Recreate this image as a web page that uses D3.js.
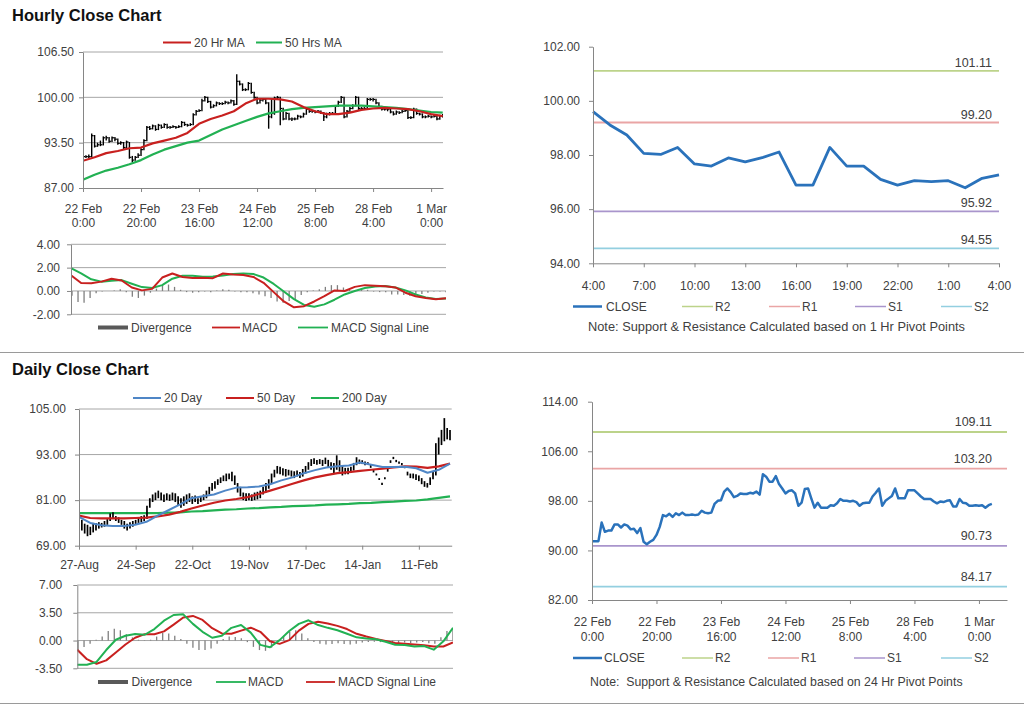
<!DOCTYPE html>
<html><head><meta charset="utf-8">
<script src="https://cdn.jsdelivr.net/npm/d3@7"></script>
<style>
body{margin:0;background:#fff;}
svg{display:block;}
</style></head><body>
<script>
// ---------------- DATA ----------------
const hourlyTickIdx = [0,20,40,60,80,100,120];
const hourlyTickLabels = [["22 Feb","0:00"],["22 Feb","20:00"],["23 Feb","16:00"],["24 Feb","12:00"],["25 Feb","8:00"],["28 Feb","4:00"],["1 Mar","0:00"]];
const hourlyClose = [91.5,91.5,91.5,94.5,93.0,93.2,93.2,94.2,94.2,93.7,
 94.2,94.0,93.4,93.5,92.8,93.6,91.4,91.0,91.4,91.7,
 92.5,93.8,95.7,95.5,95.9,95.4,96.0,95.7,96.1,95.7,
 95.7,95.8,95.7,95.8,96.4,96.1,96.0,96.1,97.5,98.0,
 98.1,99.5,100.0,99.4,98.6,98.8,99.2,99.1,99.1,99.3,
 99.2,99.5,99.0,102.3,101.9,101.1,101.1,102.0,100.7,100.0,
 99.2,99.6,99.7,99.2,97.2,97.7,99.9,100.0,98.4,96.9,
 97.7,96.9,96.9,96.9,97.3,97.2,97.6,98.3,98.0,98.0,
 97.9,98.0,97.8,97.2,97.6,97.7,97.7,98.7,99.3,100.0,
 97.2,98.0,98.4,98.8,100.0,98.4,98.4,98.4,99.7,99.7,
 99.7,99.2,98.7,98.3,98.3,98.3,97.9,97.6,97.9,97.8,
 98.0,98.1,97.1,97.1,98.3,97.7,97.6,97.2,97.2,97.3,
 97.2,97.3,96.9,97.3,97.5];
const hourlyLow = [91.2,91.3,91.3,91.4,92.8,92.9,93.0,93.1,93.8,93.5,
 93.6,93.7,93.2,93.2,92.6,92.7,91.2,90.7,90.9,91.3,
 91.6,92.4,93.7,95.3,95.4,95.2,95.3,95.5,95.6,95.5,
 95.5,95.6,95.5,95.6,95.7,95.9,95.8,95.9,96.0,97.4,
 97.9,98.0,99.4,99.2,98.4,98.5,98.7,98.9,98.9,99.0,
 99.0,99.1,98.8,98.9,101.7,100.9,100.9,101.0,100.5,99.8,
 99.0,99.1,99.4,99.0,95.5,97.0,97.5,99.7,96.0,96.7,
 96.8,96.7,96.6,96.7,96.8,97.0,97.1,97.5,97.8,97.8,
 97.7,97.8,97.6,96.6,97.0,97.4,97.5,97.6,98.6,99.2,
 97.0,97.1,97.9,98.3,98.7,98.2,98.2,98.2,98.3,99.5,
 99.4,99.0,98.5,98.1,98.1,98.0,97.7,97.4,97.5,97.6,
 97.7,97.9,96.9,96.9,97.0,97.5,97.4,97.0,97.0,97.1,
 97.0,97.1,96.7,96.8,97.1];
const hourlyHigh = [91.8,91.7,91.8,94.8,94.6,93.5,93.8,94.4,94.5,94.3,
 94.4,94.3,94.1,93.7,93.6,93.8,93.6,91.6,91.6,92.0,
 92.7,94.0,95.9,95.9,96.1,96.0,96.2,96.1,96.3,96.2,
 95.9,96.0,95.9,96.0,96.6,96.5,96.2,96.3,97.7,98.2,
 98.3,99.8,100.2,100.1,99.5,99.0,99.4,99.3,99.3,99.5,
 99.4,99.7,99.6,103.3,102.4,102.0,101.3,102.2,102.1,100.8,
 100.1,99.8,99.9,99.8,99.3,99.8,100.1,100.2,100.1,98.5,
 97.9,97.8,97.1,97.1,97.5,97.4,97.8,98.5,98.4,98.2,
 98.1,98.2,98.1,97.9,97.8,97.9,97.9,98.9,99.5,100.2,
 100.1,98.2,98.6,99.0,100.2,100.1,98.6,98.6,99.9,99.9,
 99.9,99.8,99.3,98.8,98.5,98.5,98.4,98.0,98.1,98.0,
 98.2,98.3,98.2,97.3,98.5,98.4,97.8,97.7,97.4,97.5,
 97.4,97.5,97.4,97.5,97.6];
// 20 Hr / 50 Hr moving averages, read every 4 bars (bars 0..124)
const hourlyMA20 = [90.9,91.4,92.0,92.3,92.7,92.8,93.4,93.8,94.2,94.9,96.2,96.9,97.4,98.0,99.1,99.8,99.8,99.7,99.4,98.6,98.0,97.6,97.6,97.8,98.2,98.4,98.5,98.4,98.3,98.0,97.6,97.3];
const hourlyMA50 = [88.2,88.9,89.5,89.9,90.4,91.0,91.8,92.5,93.0,93.5,93.8,94.6,95.4,96.0,96.6,97.2,97.7,98.0,98.3,98.5,98.6,98.7,98.8,98.8,98.8,98.7,98.6,98.5,98.3,98.1,97.9,97.8];
const hourlyMACD = [1.35,0.68,0.66,0.8,1.05,0.9,0.3,0.05,0.18,1.15,1.5,1.2,1.12,1.14,1.1,1.5,1.42,1.37,1.2,0.7,-0.1,-0.9,-1.4,-1.3,-0.9,-0.45,0.05,0.0,0.35,0.5,0.45,0.4,0.3,-0.15,-0.45,-0.6,-0.7,-0.62];
const hourlySignal = [1.95,1.5,1.0,0.8,0.88,0.93,0.62,0.33,0.25,0.5,1.05,1.3,1.3,1.22,1.23,1.32,1.45,1.5,1.45,1.15,0.6,-0.05,-0.7,-1.2,-1.35,-1.15,-0.75,-0.3,0.0,0.25,0.38,0.43,0.3,0.05,-0.3,-0.55,-0.68,-0.65];
const hourlyDivergence = [-0.4,-0.95,-1.0,-0.6,-0.2,-0.05,0.0,0.05,0.15,-0.1,
 -0.5,-0.6,-0.4,-0.15,0.2,0.5,0.55,0.35,0.1,-0.1,
 -0.15,-0.1,-0.05,-0.1,0.05,0.15,0.1,-0.05,-0.1,-0.1,
 -0.2,-0.3,-0.45,-0.6,-0.9,-1.0,-0.85,-0.7,-0.35,-0.1,
 0.05,0.15,0.35,0.5,0.5,0.3,0.1,0.05,0.1,0.1,
 -0.05,-0.1,-0.1,-0.3,-0.3,-0.35,-0.4,-0.35,-0.25,-0.15,
 -0.05,-0.05,-0.1];

// last 24 hours (4:00 -> 4:00)
const lastDayLabels = ["4:00","7:00","10:00","13:00","16:00","19:00","22:00","1:00","4:00"];
const lastDayClose = [99.6,99.11,98.74,98.06,98.02,98.28,97.67,97.59,97.89,97.75,97.9,98.11,96.89,96.89,98.28,97.59,97.59,97.1,96.89,97.05,97.02,97.05,96.79,97.14,97.27];
const pivotNames = ["R2","R1","S1","S2"];
const pivotHourly = [101.11,99.20,95.92,94.55];
const pivotDaily = [109.11,103.20,90.73,84.17];

// daily
const dailyTickIdx = [0,20,40,60,80,100,120];
const dailyTickLabels = ["27-Aug","24-Sep","22-Oct","19-Nov","17-Dec","14-Jan","11-Feb"];
const dailyLow = [72.5,73.0,72.2,71.5,71.8,72.5,73.0,73.5,73.8,74.0,
 74.5,75.5,76.0,75.5,75.0,74.5,73.5,73.0,73.5,74.0,
 74.5,75.0,75.2,75.5,76.0,79.0,80.5,81.0,81.5,81.0,
 80.5,81.0,80.8,81.0,80.5,79.5,79.0,79.5,80.0,80.5,
 80.0,80.5,80.0,80.5,81.0,81.5,82.5,83.5,84.0,85.0,
 85.5,86.0,86.0,86.5,86.0,85.0,83.0,82.0,81.0,80.8,
 81.0,80.8,81.0,81.2,81.5,82.5,83.0,84.0,85.5,87.0,
 88.0,87.8,87.5,87.2,87.5,87.2,86.8,87.2,86.8,87.2,
 88.0,89.0,90.0,90.5,90.3,90.5,90.0,90.5,89.5,89.0,
 88.0,89.0,88.5,87.5,87.8,87.8,88.2,88.8,90.2,90.5,
 90.5,90.2,90.5,89.5,88.3,87.5,86.3,85.0,86.5,88.5,
 90.8,91.8,91.0,90.6,90.2,89.4,87.5,86.8,86.7,86.3,
 86.0,85.2,84.5,84.3,85.0,86.5,87.5,93.0,95.5,96.5,
 97.0,96.8];
const dailyHigh = [75.5,75.8,74.8,74.5,74.0,75.0,75.0,75.2,75.0,75.5,
 76.0,77.5,77.8,76.8,76.5,75.8,75.5,74.8,75.2,75.5,
 75.8,76.5,76.8,77.0,79.5,81.5,82.5,83.0,83.5,83.0,
 82.5,82.8,82.5,83.0,82.8,82.0,81.5,82.0,82.5,82.8,
 82.0,82.2,81.5,82.0,82.5,83.5,84.5,85.5,86.0,86.5,
 87.0,87.5,88.0,88.0,88.5,87.5,85.5,84.5,83.0,82.8,
 82.8,82.5,83.0,83.2,83.5,84.5,85.5,86.5,88.0,89.0,
 90.0,89.8,89.4,89.2,89.0,88.8,88.6,88.8,88.4,89.2,
 90.0,91.0,91.8,92.0,91.6,91.8,91.6,92.2,91.6,91.0,
 90.8,92.8,91.5,90.0,89.5,89.5,89.8,90.8,92.3,91.7,
 91.5,91.2,91.0,90.5,89.0,88.0,86.8,85.6,87.0,89.2,
 91.5,92.4,91.6,91.2,90.8,90.0,88.5,88.0,88.0,87.8,
 87.5,86.8,86.0,85.5,87.0,88.5,96.0,97.5,99.5,102.6,
 100.0,99.5];
// moving averages, read at 34 evenly spaced days (day 0 .. 131)
const dailyMA20 = [76.6,75.0,74.4,74.2,74.2,74.5,75.3,76.9,78.4,79.9,81.5,82.0,82.5,83.5,84.3,84.4,84.6,85.2,86.2,87.0,88.1,88.9,89.6,89.9,90.1,90.9,90.3,89.7,89.7,89.8,89.4,88.2,89.0,90.6];
const dailyMA50 = [76.9,76.3,76.2,76.2,76.2,76.3,76.4,76.7,77.2,77.9,78.8,79.6,80.3,80.9,81.3,81.8,82.6,83.5,84.4,85.3,86.2,87.0,87.6,88.1,88.4,88.7,89.0,89.3,89.6,89.9,89.8,89.5,89.9,90.6];
const dailyMA200 = [77.6,77.6,77.6,77.6,77.6,77.6,77.6,77.6,77.7,77.8,78.0,78.1,78.3,78.5,78.6,78.8,78.9,79.1,79.2,79.4,79.5,79.6,79.8,79.9,80.0,80.2,80.3,80.5,80.6,80.8,80.9,81.2,81.6,82.0];
const dailyMACD = [-3.05,-3.05,-2.7,-1.2,0.1,0.6,0.83,0.73,1.45,2.5,3.22,3.3,2.1,1.1,0.35,0.6,1.6,1.95,1.0,-0.55,-0.85,0.05,1.2,2.1,2.55,1.95,1.6,1.3,0.85,0.4,0.25,0.15,-0.15,-0.54,-0.55,-0.74,-0.7,-1.15,-0.1,1.6];
const dailySignal = [-1.17,-2.35,-2.93,-2.5,-1.5,-0.5,0.35,0.8,0.8,1.15,2.0,2.9,3.1,2.6,1.55,0.9,0.86,1.25,1.62,1.1,-0.1,-0.42,0.05,1.25,2.1,2.38,2.15,1.85,1.45,0.85,0.5,0.2,-0.05,-0.3,-0.4,-0.5,-0.6,-0.75,-0.75,-0.25];
const dailyDivergence = [-1.2,-0.8,-0.4,0.1,0.5,1.2,1.5,1.3,0.8,0.4,
 0.1,0.05,0.1,0.5,0.95,0.9,0.6,0.2,-0.4,-0.9,
 -1.2,-1.2,-1.0,-0.4,0.2,0.5,0.45,0.3,-0.2,-0.8,
 -1.2,-1.3,-0.9,-0.2,0.6,1.1,1.3,0.9,0.3,-0.2,
 -0.4,-0.5,-0.45,-0.35,-0.45,-0.5,-0.4,-0.25,-0.2,-0.15,
 -0.2,-0.25,-0.3,-0.3,-0.25,-0.3,-0.25,-0.2,-0.35,-0.4,
 0.4,1.2,1.5];

// ---------------- STYLE ----------------
const FONT = '"Liberation Sans", Arial, sans-serif';
const TXT = '#404040', AXIS = '#868686', GRID = '#a6a6a6';
const C = {red:'#c8201f', green:'#22b153', blue:'#2a72bb', blue20:'#4f86c6', div:'#7f7f7f', divLeg:'#595959',
  R2:'#bcd38a', R1:'#eaa5a5', S1:'#a995cc', S2:'#93cfe0'};
const pivotColors = [C.R2, C.R1, C.S1, C.S2];

const svg = d3.select('body').append('svg').attr('width',1024).attr('height',706)
  .attr('font-family',FONT);

// ---------------- HELPERS ----------------
function yAxis(scale, x, ticks, pad){
  const g = svg.append('g').attr('transform',`translate(${x},0)`)
    .call(d3.axisLeft(scale).tickValues(ticks).tickSize(4).tickSizeOuter(0).tickPadding(pad)
      .tickFormat(d => d.toFixed(2)));
  g.attr('font-family',FONT).attr('font-size',12);
  g.select('.domain').attr('stroke',AXIS);
  g.selectAll('.tick line').attr('stroke',AXIS);
  g.selectAll('.tick text').attr('fill',TXT);
}
function grid(scale, vals, x0, x1){
  svg.append('g').selectAll('line').data(vals).join('line')
    .attr('x1',x0).attr('x2',x1).attr('y1',d=>scale(d)).attr('y2',d=>scale(d))
    .attr('stroke',GRID).attr('stroke-width',1);
}
function xAxis(scale, y, ticks, labels, dys){
  const g = svg.append('g').attr('transform',`translate(0,${y})`)
    .call(d3.axisBottom(scale).tickValues(ticks).tickSize(4).tickSizeOuter(0).tickFormat(''));
  g.attr('font-family',FONT).attr('font-size',12);
  g.select('.domain').attr('stroke',AXIS);
  g.selectAll('.tick line').attr('stroke',AXIS);
  g.selectAll('.tick text').remove();
  g.selectAll('.tick').each(function(d,i){
    const t = d3.select(this).append('text').attr('fill',TXT).attr('text-anchor','middle');
    const lines = Array.isArray(labels[i]) ? labels[i] : [labels[i]];
    lines.forEach((s,j)=> t.append('tspan').attr('x',0).attr('y',dys[j]).text(s));
  });
}
function legLine(x1,x2,y,color,w,label,tx){
  svg.append('line').attr('x1',x1).attr('x2',x2).attr('y1',y).attr('y2',y).attr('stroke',color).attr('stroke-width',w);
  svg.append('text').attr('x',tx).attr('y',y+4).attr('fill',TXT).attr('font-size',12).text(label);
}
function legBox(x1,x2,y,label,tx){
  svg.append('rect').attr('x',x1).attr('y',y-2).attr('width',x2-x1).attr('height',4).attr('fill',C.divLeg);
  svg.append('text').attr('x',tx).attr('y',y+4).attr('fill',TXT).attr('font-size',12).text(label);
}
function clip(id,x0,y0,x1,y1){
  svg.append('clipPath').attr('id',id).append('rect').attr('x',x0).attr('y',y0).attr('width',x1-x0).attr('height',y1-y0);
  return `url(#${id})`;
}
function seriesLine(xs, ys, data, color, w, clipUrl){
  const p = svg.append('path').datum(data)
    .attr('d', d3.line().x((d,i)=>xs(i)).y(d=>ys(d)))
    .attr('fill','none').attr('stroke',color).attr('stroke-width',w).attr('stroke-linejoin','round');
  if (clipUrl) p.attr('clip-path',clipUrl);
}
function divBars(xs, ys, data, clipUrl){
  svg.append('g').attr('clip-path',clipUrl).selectAll('line').data(data).join('line')
    .attr('x1',(d,i)=>xs(i)).attr('x2',(d,i)=>xs(i))
    .attr('y1',ys(0)).attr('y2',d=>ys(d)).attr('stroke',C.div).attr('stroke-width',1.3);
}
function ohlcBars(xs, ys, lo, hi, close, clipUrl, w){
  const g = svg.append('g').attr('clip-path',clipUrl);
  g.selectAll('line.v').data(lo).join('line').attr('class','v')
    .attr('x1',(d,i)=>xs(i)).attr('x2',(d,i)=>xs(i))
    .attr('y1',d=>ys(d)).attr('y2',(d,i)=>ys(hi[i])).attr('stroke','#000').attr('stroke-width',w);
  if (close) g.selectAll('line.c').data(close).join('line').attr('class','c')
    .attr('x1',(d,i)=>xs(i)).attr('x2',(d,i)=>xs(i)+2)
    .attr('y1',d=>ys(d)).attr('y2',d=>ys(d)).attr('stroke','#000').attr('stroke-width',1.2);
}

// ---------------- TITLES / SEPARATORS ----------------
svg.append('text').attr('x',12).attr('y',21).attr('font-size',16.5).attr('font-weight','bold').attr('fill','#111').text('Hourly Close Chart');
svg.append('text').attr('x',12).attr('y',375).attr('font-size',16.5).attr('font-weight','bold').attr('fill','#111').text('Daily Close Chart');
svg.append('line').attr('x1',0).attr('x2',1024).attr('y1',352.5).attr('y2',352.5).attr('stroke','#9a9a9a');
svg.append('line').attr('x1',0).attr('x2',1024).attr('y1',703.5).attr('y2',703.5).attr('stroke','#9a9a9a');

// ---------------- PANEL 1: hourly price ----------------
{
  const x = d3.scaleLinear().domain([0,124.1]).range([83,443]);
  const y = d3.scaleLinear().domain([87,106.5]).range([188,52]);
  grid(y,[93.5,100,106.5],83,443);
  const cp = clip('c1',83,40,443,188);
  ohlcBars(x,y,hourlyLow,hourlyHigh,hourlyClose,cp,1.4);
  const xm = d3.scaleLinear().domain([0,hourlyMA20.length-1]).range([x(0),x(124)]);
  seriesLine(xm,y,hourlyMA50,C.green,2.2,cp);
  seriesLine(xm,y,hourlyMA20,C.red,2.2,cp);
  yAxis(y,83,[87,93.5,100,106.5],5);
  xAxis(x,188,hourlyTickIdx,hourlyTickLabels,[25,39]);
  legLine(163,191,42.5,C.red,2,'20 Hr MA',194);
  legLine(256,282,42.5,C.green,2,'50 Hrs MA',285);
}
// ---------------- PANEL 2: hourly MACD ----------------
{
  const y = d3.scaleLinear().domain([-2,4]).range([314.3,244.3]);
  grid(y,[-2,0,2,4],71,446);
  const cp = clip('c2',71,240,446,316);
  const xd = d3.scaleLinear().domain([0,hourlyDivergence.length-1]).range([72,446]);
  divBars(xd,y,hourlyDivergence,cp);
  const xl = d3.scaleLinear().domain([0,hourlyMACD.length-1]).range([71,446]);
  seriesLine(xl,y,hourlySignal,C.green,2,cp);
  seriesLine(xl,y,hourlyMACD,C.red,2,cp);
  yAxis(y,71,[-2,0,2,4],7);
  legBox(98,128,327.5,'Divergence',131);
  legLine(212,240,327.5,C.red,1.8,'MACD',242);
  legLine(298,328,327.5,C.green,1.8,'MACD Signal Line',331);
}
// ---------------- PANEL 3: last 24 hours with pivots ----------------
{
  const x = d3.scaleLinear().domain([0,24]).range([593,999]);
  const y = d3.scaleLinear().domain([94,102]).range([263.3,46.7]);
  pivotHourly.forEach((v,i)=>{
    svg.append('line').attr('x1',593).attr('x2',999).attr('y1',y(v)).attr('y2',y(v)).attr('stroke',pivotColors[i]).attr('stroke-width',1.8);
    svg.append('text').attr('x',992).attr('y',y(v)-4).attr('text-anchor','end').attr('fill',TXT).attr('font-size',12.5).text(v.toFixed(2));
  });
  seriesLine(x,y,lastDayClose,C.blue,2.8,null);
  yAxis(y,593,[94,96,98,100,102],9);
  xAxis(x,263.3,d3.range(0,25,3),lastDayLabels,[27]);
  legLine(573,602,306.5,C.blue,2.5,'CLOSE',606);
  pivotNames.forEach((n,i)=>{
    const xs=[682,769,855,941][i];
    legLine(xs,xs+31,306.5,pivotColors[i],1.5,n,xs+33);
  });
  svg.append('text').attr('x',588).attr('y',331).attr('fill',TXT).attr('font-size',12.8)
    .text('Note: Support & Resistance Calculated based on 1 Hr Pivot Points');
}
// ---------------- PANEL 4: daily price ----------------
{
  const x = d3.scaleLinear().domain([0,131.6]).range([79,451.7]);
  const y = d3.scaleLinear().domain([69,105]).range([545.7,409]);
  grid(y,[81,93,105],79,451.7);
  const cp = clip('c4',79,400,452,546);
  const xm = d3.scaleLinear().domain([0,dailyMA20.length-1]).range([x(0),x(131)]);
  seriesLine(xm,y,dailyMA200,C.green,2.2,cp);
  ohlcBars(x,y,dailyLow,dailyHigh,null,cp,1.7);
  seriesLine(xm,y,dailyMA50,C.red,2.2,cp);
  seriesLine(xm,y,dailyMA20,C.blue20,2,cp);
  yAxis(y,79,[69,81,93,105],9);
  xAxis(x,545.7,dailyTickIdx,dailyTickLabels,[23]);
  legLine(133,161,398,C.blue20,2,'20 Day',164);
  legLine(226,254,398,C.red,2,'50 Day',257);
  legLine(311,339,398,C.green,2,'200 Day',342);
}
// ---------------- PANEL 5: daily MACD ----------------
{
  const y = d3.scaleLinear().domain([-3.5,7]).range([668.3,585]);
  grid(y,[-3.5,0,3.5,7],77.3,453);
  const cp = clip('c5',77,580,453,670);
  const xd = d3.scaleLinear().domain([0,dailyDivergence.length-1]).range([78,453]);
  divBars(xd,y,dailyDivergence,cp);
  const xl = d3.scaleLinear().domain([0,dailyMACD.length-1]).range([77.3,453]);
  seriesLine(xl,y,dailySignal,C.red,2,cp);
  seriesLine(xl,y,dailyMACD,C.green,2,cp);
  yAxis(y,77.3,[-3.5,0,3.5,7],11);
  legBox(98,128,682,'Divergence',131.5);
  legLine(216,246,682,C.green,1.8,'MACD',248);
  legLine(306,335,682,C.red,1.8,'MACD Signal Line',338);
}
// ---------------- PANEL 6: hourly close with 24 hr pivots ----------------
{
  const x = d3.scaleLinear().domain([0,128.7]).range([592,1007]);
  const y = d3.scaleLinear().domain([82,114]).range([600,401.7]);
  pivotDaily.forEach((v,i)=>{
    svg.append('line').attr('x1',592).attr('x2',1007).attr('y1',y(v)).attr('y2',y(v)).attr('stroke',pivotColors[i]).attr('stroke-width',1.8);
    svg.append('text').attr('x',992).attr('y',y(v)-6).attr('text-anchor','end').attr('fill',TXT).attr('font-size',12.5).text(v.toFixed(2));
  });
  seriesLine(x,y,hourlyClose,C.blue,2.5,null);
  yAxis(y,592,[82,90,98,106,114],10);
  xAxis(x,600,hourlyTickIdx,hourlyTickLabels,[26,41]);
  legLine(573,602,658,C.blue,2.5,'CLOSE',604);
  pivotNames.forEach((n,i)=>{
    const xs=[682,768,854,941][i];
    legLine(xs,xs+31,658,pivotColors[i],1.5,n,xs+33);
  });
  svg.append('text').attr('x',590).attr('y',686).attr('fill',TXT).attr('font-size',12.3).attr('xml:space','preserve')
    .text('Note:  Support & Resistance Calculated based on 24 Hr Pivot Points');
}
</script></body></html>
